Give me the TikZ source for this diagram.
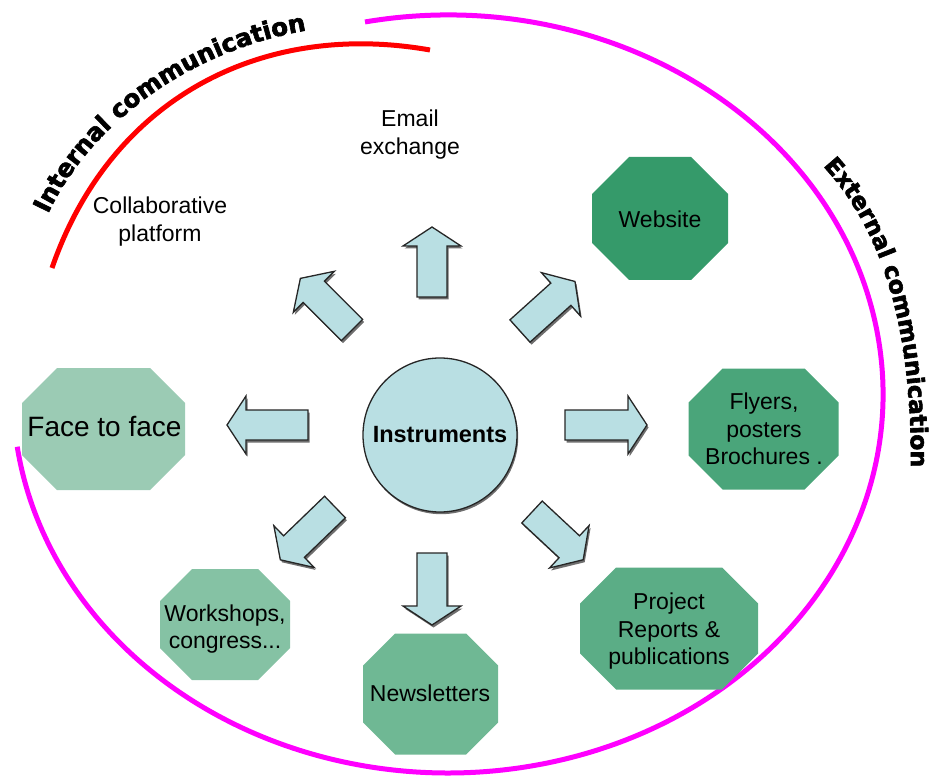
\documentclass[tikz,border=0pt]{standalone}
\usepackage{fontspec}
\setmainfont{Liberation Sans}
\newfontfamily\heavyfont{DejaVu Sans}[BoldFont={DejaVu Sans Bold}, BoldFeatures={FakeBold=2.5}]
\usetikzlibrary{decorations.text}
\definecolor{arrowblue}{RGB}{185,223,227}
\definecolor{gA}{RGB}{155,203,180}
\definecolor{gB}{RGB}{133,194,164}
\definecolor{gC}{RGB}{111,184,148}
\definecolor{gD}{RGB}{91,173,134}
\definecolor{gE}{RGB}{74,165,122}
\definecolor{gF}{RGB}{53,154,106}
\definecolor{shadowgray}{RGB}{110,110,110}
\definecolor{mag}{RGB}{255,0,255}
\newcommand\curvefontA{\heavyfont\bfseries\fontsize{24.5pt}{24pt}\selectfont}
\newcommand\curvefontB{\heavyfont\bfseries\fontsize{23.5pt}{23pt}\selectfont}
% name, cx, cy, w, h, cut, colour
\newcommand\octagon[7]{%
  \pgfmathsetmacro\ow{#4/2}\pgfmathsetmacro\oh{#5/2}%
  \begin{scope}[shift={(#2,#3)}]
    \fill[#7] (-\ow+#6,\oh) -- (\ow-#6,\oh) -- (\ow,\oh-#6) -- (\ow,-\oh+#6)
      -- (\ow-#6,-\oh) -- (-\ow+#6,-\oh) -- (-\ow,-\oh+#6) -- (-\ow,\oh-#6) -- cycle;
    \coordinate (#1) at (0,0);
  \end{scope}}
% name, base x, base y, angle, length
\newcommand\blockarr[5]{%
  \pgfmathsetmacro\hb{#5-19}%
  \begin{scope}[shift={(#2+1.5,#3-2.5)}, rotate=#4]
    \fill[shadowgray] (0,-15) -- (\hb,-15) -- (\hb,-29) -- (#5,0) -- (\hb,29) -- (\hb,15) -- (0,15) -- cycle;
  \end{scope}
  \begin{scope}[shift={(#2,#3)}, rotate=#4]
    \path[blockarrow] (0,-15) -- (\hb,-15) -- (\hb,-29) -- (#5,0) -- (\hb,29) -- (\hb,15) -- (0,15) -- cycle;
    \coordinate (#1) at (#5/2,0);
  \end{scope}}
\begin{document}
\begin{tikzpicture}[x=1pt,y=1pt,
  blockarrow/.style={fill=arrowblue, draw=black!85, line width=1.3pt, line join=miter},
  lbl/.style={font=\fontsize{23pt}{27.5pt}\selectfont, align=center, inner sep=0pt, text=black},
  bigarc/.style={line width=5pt}]
\useasboundingbox (0,0) rectangle (938,-778);
% outer arcs
\draw[bigarc, mag] ([shift={(101:435 and 379)}]448,-394)
  arc[start angle=101, end angle=-172, x radius=435, y radius=379];
\draw[bigarc, red] (52,-268) .. controls (110,-100) and (260,-20) .. (430,-50);
% curved titles
\path[decorate, decoration={text along path, text={|\curvefontA|Internal communication}, text align=fit to path}]
  (48,-214) .. controls (90,-125) and (185,-54) .. (298,-32);
\path[decorate, decoration={text along path, text={|\curvefontB|External communication}, text align=fit to path}]
  (823,-166) .. controls (880,-228) and (911,-320) .. (911,-462);
% octagons
\octagon{oface}{103.5}{-429}{163}{122}{35}{gA}
\octagon{oweb}{660}{-218.5}{136}{123}{37}{gF}
\octagon{ofly}{763.5}{-429}{150}{121}{34}{gE}
\octagon{oproj}{669}{-628.5}{178}{122}{36}{gD}
\octagon{onews}{430.5}{-694}{135}{121}{32}{gC}
\octagon{owork}{225}{-624.5}{130}{111}{32}{gB}
% block arrows
\blockarr{aup}{432}{-297}{90}{70}
\blockarr{aul}{352}{-330}{135}{73}
\blockarr{aur}{520}{-331}{42}{74}
\blockarr{al}{308}{-425}{180}{81}
\blockarr{ar}{565}{-425}{0}{82}
\blockarr{adl}{335}{-507}{224}{76}
\blockarr{ad}{432}{-553}{270}{72}
\blockarr{adr}{532}{-512}{-43}{70}
% centre
\fill[shadowgray] (441.2,-437.2) circle (77);
\node[circle, draw=black!85, line width=1.3pt, fill=arrowblue, minimum size=154pt, inner sep=0pt,
  font=\bfseries\fontsize{23.5pt}{28pt}\selectfont] (instr) at (440,-435) {Instruments};
% labels
\node[lbl] (temail) at (410,-134.5) {Email\\exchange};
\node[lbl] (tcollab) at (160,-221.5) {Collaborative\\platform};
\node[lbl, font=\fontsize{28pt}{32pt}\selectfont] (tface) at (104.5,-427) {Face to face};
\node[lbl] (tweb) at (660,-219) {Website};
\node[lbl] (tfly) at (764,-429) {Flyers,\\posters\\Brochures .};
\node[lbl] (tproj) at (669,-631.5) {Project\\Reports \&\\publications};
\node[lbl] (tnews) at (430,-693.6) {Newsletters};
\node[lbl] (twork) at (225,-629) {Workshops,\\congress...};
\end{tikzpicture}
\end{document}
